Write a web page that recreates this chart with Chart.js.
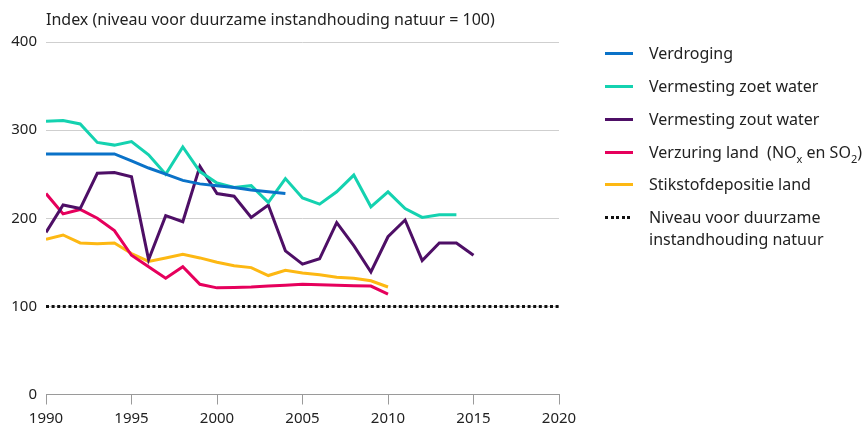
<!DOCTYPE html>
<html lang="nl">
<head>
<meta charset="utf-8">
<script src="https://cdn.jsdelivr.net/npm/chart.js@4"></script>
<style>
  html, body { margin: 0; padding: 0; background: #fff; }
  body { width: 868px; height: 433px; position: relative; overflow: hidden; font-family: "Noto Sans", sans-serif; color: #222; }
  #wrap { position: absolute; left: 0; top: 0; width: 868px; height: 433px; }
  #titel { position: absolute; left: 46px; top: 8px; font-size: 16px; white-space: nowrap; }
  #legenda { position: absolute; left: 605px; top: 0; font-size: 16px; }
  .item { position: absolute; left: 0; white-space: nowrap; line-height: 22px; }
  .lijn { position: absolute; left: 0; width: 28px; height: 3px; }
  .tekst { position: absolute; left: 44px; top: 0; }
  .tekst sub { font-size: 11px; vertical-align: -5px; line-height: 0; }
</style>
</head>
<body>
<div id="wrap"><canvas id="grafiek"></canvas></div>
<div id="titel">Index (niveau voor duurzame instandhouding natuur = 100)</div>
<div id="legenda"></div>
<script>
// Jaren op de x-as
const jaren = [1990, 1991, 1992, 1993, 1994, 1995, 1996, 1997, 1998, 1999, 2000, 2001, 2002,
  2003, 2004, 2005, 2006, 2007, 2008, 2009, 2010, 2011, 2012, 2013, 2014, 2015];
const xTicks = [1990, 1995, 2000, 2005, 2010, 2015, 2020];
const yTicks = [0, 100, 200, 300, 400];

// Indexwaarden per reeks (vanaf 1990)
const verdroging = [273, 273, 273, 273, 273, 265, 257, 250, 243, 239, 237, 235, 232, 230, 228];
const zoetWater = [310, 311, 307, 286, 283, 287, 272, 250, 281, 253, 240, 235, 237, 218, 245,
  223, 216, 230, 249, 213, 230, 211, 201, 204, 204];
const zoutWater = [184, 215, 211, 251, 252, 247, 153, 203, 196, 259, 228, 225, 201, 215, 163,
  148, 154, 195, 169, 139, 179, 198, 152, 172, 172, 158];
const verzuring = [228, 205, 210, 200, 186, 158, 145, 132, 145, 125, 121, 121.5, 122, 123, 124,
  125, 124.5, 124, 123.5, 123, 114];
const stikstof = [176, 181, 172, 171, 172, 160, 151, 155, 159, 155, 150, 146, 144, 135, 141,
  138, 136, 133, 132, 129, 122];

// Niveau voor duurzame instandhouding
const niveauJaren = [1990, 2020];
const niveau = [100, 100];

const reeksen = [
  { label: "Verdroging", data: verdroging, kleur: "#0a72c8" },
  { label: "Vermesting zoet water", data: zoetWater, kleur: "#14d2b0" },
  { label: "Vermesting zout water", data: zoutWater, kleur: "#4e0f66" },
  { label: "Verzuring land&nbsp; (NO<sub>x</sub> en SO<sub>2</sub>)", data: verzuring, kleur: "#e6005c" },
  { label: "Stikstofdepositie land", data: stikstof, kleur: "#fdb813" },
];

const punten = (xs, ys) => ys.map((v, i) => ({ x: xs[i], y: v }));

const datasets = reeksen.map((r) => ({
  label: r.label,
  data: punten(jaren, r.data),
  borderColor: r.kleur,
  backgroundColor: r.kleur,
  borderWidth: 3,
  pointRadius: 0,
  tension: 0,
  borderJoinStyle: "miter",
}));

datasets.push({
  label: "Niveau voor duurzame instandhouding natuur",
  data: punten(niveauJaren, niveau),
  borderColor: "#111",
  borderWidth: 3,
  borderDash: [3, 2.6],
  borderCapStyle: "butt",
  pointRadius: 0,
});

const font = { family: "Noto Sans", size: 15 };

new Chart(document.getElementById("grafiek"), {
  type: "line",
  data: { datasets },
  options: {
    responsive: true,
    maintainAspectRatio: false,
    animation: false,
    layout: { padding: { top: 42, right: 309, left: 0, bottom: 0 } },
    plugins: {
      legend: { display: false },
      tooltip: { enabled: false },
    },
    scales: {
      x: {
        type: "linear",
        min: 1990,
        max: 2020,
        afterBuildTicks: (scale) => {
          scale.ticks = xTicks.map((v) => ({ value: v }));
        },
        afterFit: (scale) => {
          scale.height = 38.5;
        },
        border: { display: true, color: "#9a9a9a", width: 1 },
        grid: { drawOnChartArea: false, drawTicks: true, tickLength: 10, color: "#9a9a9a" },
        ticks: { color: "#222", font, padding: 5, maxRotation: 0, callback: (v) => String(v) },
      },
      y: {
        min: 0,
        max: 400,
        afterBuildTicks: (scale) => {
          scale.ticks = yTicks.map((v) => ({ value: v }));
        },
        afterFit: (scale) => {
          scale.width = 46;
        },
        border: { display: false },
        grid: { color: "#cfcfcf", drawTicks: false, lineWidth: 1 },
        ticks: { color: "#222", font, padding: 9 },
      },
    },
  },
});

// Legenda rechts van de grafiek
const legenda = document.getElementById("legenda");
const rijY = [53, 86, 119, 152, 184, 217];
reeksen.forEach((r, i) => {
  const item = document.createElement("div");
  item.className = "item";
  item.style.top = rijY[i] - 11 + "px";
  item.innerHTML = `<div class="lijn" style="top:10px;background:${r.kleur}"></div><div class="tekst">${r.label}</div>`;
  legenda.appendChild(item);
});
const niveauItem = document.createElement("div");
niveauItem.className = "item";
niveauItem.style.top = rijY[5] - 11 + "px";
niveauItem.innerHTML =
  '<div class="lijn" style="top:10px;background:repeating-linear-gradient(90deg,#111 0 3px,transparent 3px 5.6px)"></div>' +
  '<div class="tekst">Niveau voor duurzame<br>instandhouding natuur</div>';
legenda.appendChild(niveauItem);
</script>
</body>
</html>
